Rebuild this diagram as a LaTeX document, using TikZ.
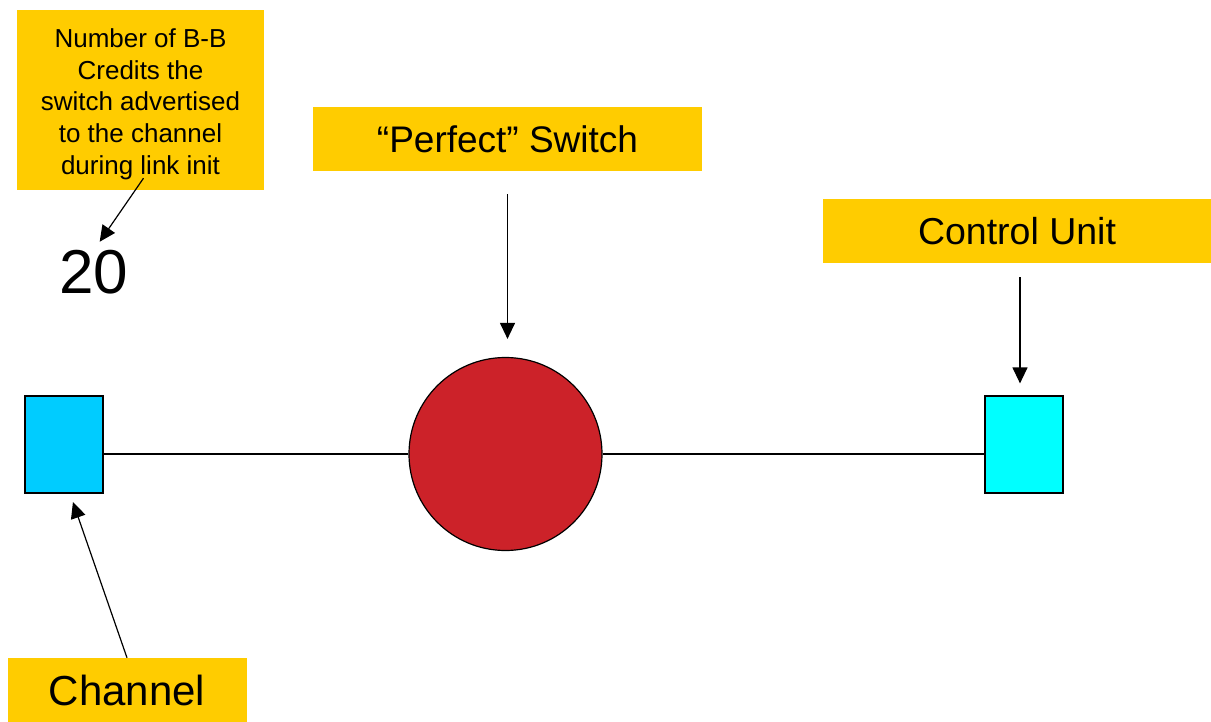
\documentclass[tikz,border=0pt]{standalone}
\usepackage{fontspec}
\setmainfont{Liberation Sans}
\usetikzlibrary{calc, shapes, arrows.meta}
\definecolor{labelyellow}{HTML}{FFCC00}
\definecolor{switchred}{HTML}{CC2229}
\definecolor{chanblue}{HTML}{00CCFF}
\definecolor{unitcyan}{HTML}{00FFFF}

\begin{document}
\begin{tikzpicture}[x=1pt, y=-1pt,
    label box/.style={fill=labelyellow, inner sep=0pt, align=center},
    port/.style={draw=black, line width=1.2pt, minimum width=78pt, minimum height=97pt, inner sep=0pt},
    pointer/.style={-{Triangle[length=16pt,width=15pt]}, line width=1.2pt},
    link/.style={line width=1.2pt}]
        \useasboundingbox (0,0) rectangle (1211,722);
        % labels
        \node[label box, minimum width=247pt, minimum height=180pt,
          font=\fontsize{26}{31.7}\selectfont] (credits) at (140.5,100)
          {\raisebox{-4pt}[\height][\depth]{\parbox{235pt}{\centering Number of B-B\\Credits the\\switch advertised\\to the channel\\during link init}}};
        \node[inner sep=0pt, font=\fontsize{62}{62}\selectfont, anchor=north] (count) at (94,250) {20};
        \node[label box, minimum width=389pt, minimum height=64pt,
          font=\fontsize{37}{40}\selectfont] (perfect) at (507.5,139) {``Perfect'' Switch};
        \node[label box, minimum width=388pt, minimum height=64pt,
          font=\fontsize{37.5}{40}\selectfont] (control) at (1017,231) {Control Unit};
        \node[label box, minimum width=239pt, minimum height=64pt,
          font=\fontsize{42}{44}\selectfont] (channel) at (127,690) {Channel};
        % parts
        \node[circle, draw=black, line width=1.2pt, fill=switchred, minimum size=193pt, inner sep=0pt] (switch) at (505.5,454) {};
        \node[port, fill=chanblue] (chanport) at (64,444.5) {};
        \node[port, fill=unitcyan] (unitport) at (1024,444.5) {};
        \draw[link] (switch) -- (switch -| chanport.east);
        \draw[link] (switch) -- (switch -| unitport.west);
        % arrows
        \draw[pointer, shorten >=10pt] ([xshift=3pt,yshift=12pt]credits.south) -- (count.north);
        \draw[pointer, shorten <=23pt, shorten >=18pt] (perfect.south) -- (perfect.south |- switch.north);
        \draw[pointer, shorten <=14pt, shorten >=12pt] (control.south -| 1020,0) -- (unitport.north -| 1020,0);
        \draw[pointer, shorten >=9pt] (channel.north) -- ([xshift=6pt]chanport.south);
\end{tikzpicture}
\end{document}
